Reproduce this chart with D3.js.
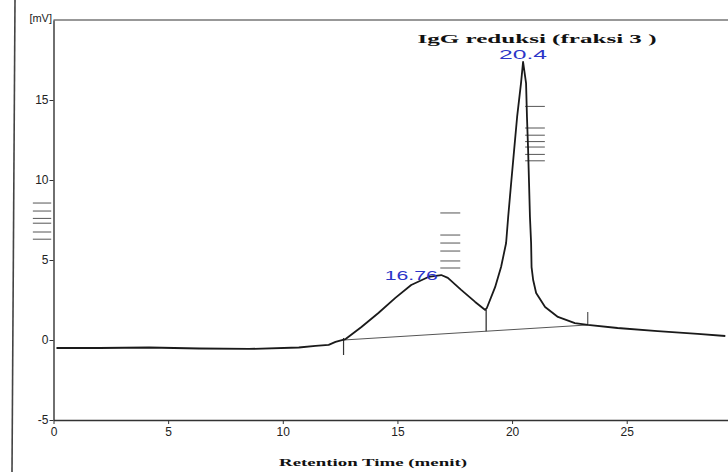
<!DOCTYPE html>
<html>
<head>
<meta charset="utf-8">
<script src="https://cdn.jsdelivr.net/npm/d3@7"></script>
<style>
body{margin:0;background:#fff;}
.tick text{font-family:"Liberation Sans Narrow","Liberation Sans",sans-serif;font-size:12px;fill:#222;}
.tick line,.domain{stroke:#333;}
</style>
</head>
<body>
<svg id="chart"></svg>
<script>
// trace: time (menit) and signal (mV)
var times=[0.13,2.0,4.17,6.35,8.52,10.7,11.43,12.0,12.3,12.74,13.43,14.17,14.91,15.6,16.35,16.91,17.2,17.78,18.39,18.83,
           18.9,19.26,19.52,19.74,19.83,19.96,20.09,20.22,20.39,20.48,20.61,20.65,20.7,20.74,20.78,20.83,20.85,20.92,21.05,21.44,22.0,
           22.74,23.3,24.6,26.35,28.1,29.3];
var signal=[-0.5,-0.5,-0.47,-0.53,-0.56,-0.47,-0.37,-0.3,-0.12,0.06,0.81,1.69,2.63,3.44,3.94,4.06,3.88,3.13,2.38,1.88,
            2.0,3.3,4.56,6.06,7.69,9.81,11.88,13.94,16.06,17.38,16.06,13.94,11.88,9.81,7.69,6.06,4.56,3.75,2.94,2.06,1.44,
            1.06,0.94,0.75,0.56,0.38,0.25];
var peakTimes=[16.91,20.48];
var peakValues=[4.06,17.38];
var peakLabels=["16.76","20.4"];
// integration baseline and drop line
var baseStart=[12.65,0.0];
var baseEnd=[23.3,0.94];
var dropTime=18.87;
// little event marks printed by the integrator
var markGroups=[
  {t0:-0.9,t1:-0.1,levels:[8.56,8.06,7.6,7.3,6.75,6.3]},
  {t0:16.87,t1:17.74,levels:[7.94,6.56,6.06,5.56,4.94,4.5]},
  {t0:20.57,t1:21.43,levels:[14.6,13.25,12.8,12.4,12.06,11.6,11.2]}
];
var xTicks=[0,5,10,15,20,25];
var yTicks=[-5,0,5,10,15];

var w=728;
var h=472;
var svg=d3.select("#chart")
          .attr("width",w)
          .attr("height",h);
var xScale=d3.scaleLinear()
             .domain([0,29.4])
             .range([53.5,727.6]);
var yScale=d3.scaleLinear()
             .domain([-5,20])
             .range([420,20]);

// scan border on the left
svg.append("line")
   .attr("x1",15).attr("y1",0)
   .attr("x2",12).attr("y2",h)
   .attr("stroke","#444")
   .attr("stroke-width",1.6);

// top frame line
svg.append("line")
   .attr("x1",xScale(0)).attr("y1",yScale(20))
   .attr("x2",w).attr("y2",yScale(20))
   .attr("stroke","#333")
   .attr("stroke-width",1.2);

var plain=function(d){return String(d);};
var xAxis=d3.axisBottom(xScale).tickValues(xTicks).tickFormat(plain).tickSize(4).tickSizeOuter(0).tickPadding(3);
var yAxis=d3.axisLeft(yScale).tickValues(yTicks).tickFormat(plain).tickSize(4).tickSizeOuter(0).tickPadding(1);
svg.append("g")
   .attr("transform","translate(0,"+yScale(-5)+")")
   .call(xAxis);
svg.append("g")
   .attr("transform","translate("+xScale(0)+",0)")
   .call(yAxis);
svg.selectAll(".domain").attr("stroke-width",1.4);

svg.append("text")
   .attr("x",52).attr("y",22)
   .attr("text-anchor","end")
   .style("font-family","Liberation Sans Narrow, Liberation Sans, sans-serif")
   .style("font-size","11px")
   .attr("fill","#222")
   .text("[mV]");

// integration baseline
svg.append("line")
   .attr("x1",xScale(baseStart[0])).attr("y1",yScale(baseStart[1]))
   .attr("x2",xScale(baseEnd[0])).attr("y2",yScale(baseEnd[1]))
   .attr("stroke","#555")
   .attr("stroke-width",1);
var baseAt=function(t){
  return baseStart[1]+(baseEnd[1]-baseStart[1])*(t-baseStart[0])/(baseEnd[0]-baseStart[0]);
};
svg.append("line")
   .attr("x1",xScale(dropTime)).attr("y1",yScale(baseAt(dropTime)))
   .attr("x2",xScale(dropTime)).attr("y2",yScale(1.88))
   .attr("stroke","#333")
   .attr("stroke-width",1.3);
// start / end ticks of integration
svg.append("line")
   .attr("x1",xScale(baseStart[0])).attr("y1",yScale(baseStart[1])-2)
   .attr("x2",xScale(baseStart[0])).attr("y2",yScale(baseStart[1])+15)
   .attr("stroke","#333").attr("stroke-width",1.2);
svg.append("line")
   .attr("x1",xScale(baseEnd[0])).attr("y1",yScale(baseEnd[1])-13)
   .attr("x2",xScale(baseEnd[0])).attr("y2",yScale(baseEnd[1]))
   .attr("stroke","#555").attr("stroke-width",1.2);

// event marks
markGroups.forEach(function(g){
  svg.append("g")
     .selectAll("line")
     .data(g.levels)
     .enter()
     .append("line")
     .attr("x1",xScale(g.t0))
     .attr("x2",xScale(g.t1))
     .attr("y1",function(d){return yScale(d);})
     .attr("y2",function(d){return yScale(d);})
     .attr("stroke","#555")
     .attr("stroke-width",1);
});

// chromatogram trace
var pts=times.map(function(t,i){return {t:t,v:signal[i]};});
var line=d3.line()
           .x(function(d){return xScale(d.t);})
           .y(function(d){return yScale(d.v);});
svg.append("path")
   .datum(pts)
   .attr("d",line)
   .attr("fill","none")
   .attr("stroke","#1a1a1a")
   .attr("stroke-width",1.8)
   .attr("stroke-linejoin","round");

// peak labels
var labelWidths=[53,48];
svg.selectAll(".peak")
   .data(peakLabels)
   .enter()
   .append("text")
   .classed("peak",true)
   .attr("x",function(d,i){return xScale(peakTimes[i])-(i==0?30:0);})
   .attr("y",function(d,i){return yScale(peakValues[i])-(i==0?-5:3);})
   .attr("text-anchor","middle")
   .attr("textLength",function(d,i){return labelWidths[i];})
   .attr("lengthAdjust","spacingAndGlyphs")
   .style("font-family","Liberation Sans, sans-serif")
   .style("font-size","12px")
   .attr("fill","#2b35c8")
   .text(function(d){return d;});

svg.append("text")
   .attr("x",537).attr("y",43)
   .attr("text-anchor","middle")
   .attr("textLength",239)
   .attr("lengthAdjust","spacingAndGlyphs")
   .style("font-family","Liberation Serif, serif")
   .style("font-weight","bold")
   .style("font-size","13px")
   .attr("fill","#111")
   .text("IgG reduksi (fraksi 3 )");

svg.append("text")
   .attr("x",373).attr("y",466)
   .attr("text-anchor","middle")
   .attr("textLength",188)
   .attr("lengthAdjust","spacingAndGlyphs")
   .style("font-family","Liberation Serif, serif")
   .style("font-weight","bold")
   .style("font-size","11px")
   .attr("fill","#111")
   .text("Retention Time (menit)");
</script>
</body>
</html>
